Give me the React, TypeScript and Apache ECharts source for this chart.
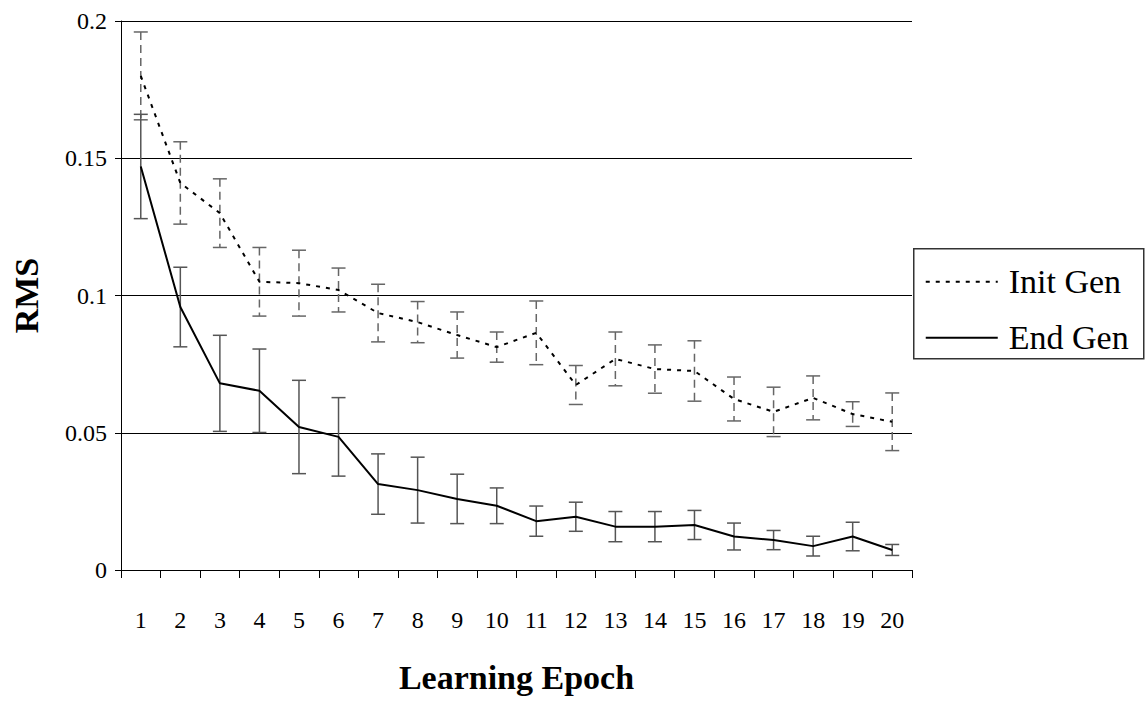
import React, { useEffect, useRef } from "react";
import * as echarts from "echarts";

// Learning epochs on the x axis
const epochs = ["1", "2", "3", "4", "5", "6", "7", "8", "9", "10", "11", "12", "13", "14", "15", "16", "17", "18", "19", "20"];

// Mean RMS at the start of each generation, with its error
const initGen = [0.180, 0.141, 0.130, 0.105, 0.1045, 0.102, 0.0936, 0.0903, 0.0856, 0.0812, 0.0864, 0.0674, 0.0769, 0.0732, 0.0725, 0.0623, 0.0576, 0.0627, 0.0568, 0.054];
const initErr = [0.016, 0.015, 0.0125, 0.0125, 0.012, 0.008, 0.0105, 0.0075, 0.0084, 0.0055, 0.0116, 0.0071, 0.0098, 0.0088, 0.011, 0.008, 0.009, 0.008, 0.0045, 0.0105];

// Mean RMS at the end of each generation, with its error
const endGen = [0.147, 0.0958, 0.068, 0.0653, 0.0521, 0.0485, 0.0313, 0.0291, 0.0259, 0.0234, 0.0178, 0.0194, 0.0158, 0.0158, 0.0164, 0.0122, 0.0109, 0.0087, 0.0122, 0.0073];
const endErr = [0.019, 0.0145, 0.0175, 0.0152, 0.017, 0.0143, 0.011, 0.012, 0.009, 0.0065, 0.0055, 0.0053, 0.0055, 0.0055, 0.0053, 0.0049, 0.0035, 0.0036, 0.0052, 0.002];

const seriesNames = ["Init Gen", "End Gen"];

const FONT = "Liberation Serif";
const INIT_DASH = [4, 6];

function errorBars(color: string, dashed: boolean) {
  return (params: any, api: any) => {
    const x = api.value(0);
    const lo = api.coord([x, api.value(1)]);
    const hi = api.coord([x, api.value(2)]);
    const half = 7;
    const stem = { stroke: color, lineWidth: 1.5, lineDash: dashed ? [8, 5] : null };
    const cap = { stroke: color, lineWidth: 1.5 };
    return {
      type: "group",
      children: [
        { type: "line", shape: { x1: hi[0], y1: hi[1], x2: lo[0], y2: lo[1] }, style: stem },
        { type: "line", shape: { x1: hi[0] - half, y1: hi[1], x2: hi[0] + half, y2: hi[1] }, style: cap },
        { type: "line", shape: { x1: lo[0] - half, y1: lo[1], x2: lo[0] + half, y2: lo[1] }, style: cap },
      ],
    };
  };
}

export default function App() {
  const ref = useRef<HTMLDivElement>(null);

  useEffect(() => {
    if (!ref.current) return;
    const chart = echarts.init(ref.current, null, { renderer: "svg" });

    const initBars = epochs.map((_, i) => [i, initGen[i] - initErr[i], initGen[i] + initErr[i]]);
    const endBars = epochs.map((_, i) => [i, endGen[i] - endErr[i], endGen[i] + endErr[i]]);

    const keyFont = "34px 'Liberation Serif', serif";

    // Boxed key at the right of the plot
    const legendGraphic = {
      type: "group",
      left: 913,
      top: 248,
      children: [
        {
          type: "rect",
          shape: { x: 0, y: 0, width: 230, height: 110 },
          style: { fill: "#fff", stroke: "#333", lineWidth: 1.5 },
        },
        {
          type: "line",
          shape: { x1: 12, y1: 33, x2: 84, y2: 33 },
          style: { stroke: "#000", lineWidth: 2, lineDash: INIT_DASH },
        },
        {
          type: "text",
          x: 95,
          y: 33,
          style: { text: seriesNames[0], font: keyFont, fontFamily: FONT, fontSize: 34, fill: "#000", verticalAlign: "middle", align: "left" },
        },
        {
          type: "line",
          shape: { x1: 12, y1: 89, x2: 84, y2: 89 },
          style: { stroke: "#000", lineWidth: 2 },
        },
        {
          type: "text",
          x: 95,
          y: 89,
          style: { text: seriesNames[1], font: keyFont, fontFamily: FONT, fontSize: 34, fill: "#000", verticalAlign: "middle", align: "left" },
        },
      ],
    };

    chart.setOption({
      animation: false,
      backgroundColor: "#ffffff",
      textStyle: { fontFamily: FONT, color: "#000" },
      grid: { left: 121, top: 21, right: 235, bottom: 133 },
      graphic: [legendGraphic],
      xAxis: {
        type: "category",
        data: epochs,
        boundaryGap: true,
        name: "Learning Epoch",
        nameLocation: "middle",
        nameGap: 90,
        nameTextStyle: { fontFamily: FONT, fontSize: 34, fontWeight: "bold", color: "#000" },
        axisLine: { lineStyle: { color: "#000", width: 1 } },
        axisTick: { show: true, length: 8, lineStyle: { color: "#000" } },
        axisLabel: { fontFamily: FONT, fontSize: 24, color: "#000", margin: 38 },
        splitLine: { show: false },
      },
      yAxis: {
        type: "value",
        min: 0,
        max: 0.2,
        interval: 0.05,
        name: "RMS",
        nameLocation: "middle",
        nameGap: 78,
        nameRotate: 90,
        nameTextStyle: { fontFamily: FONT, fontSize: 34, fontWeight: "bold", color: "#000" },
        axisLine: { show: true, lineStyle: { color: "#000", width: 1 } },
        axisTick: { show: true, length: 6, lineStyle: { color: "#000" } },
        axisLabel: { fontFamily: FONT, fontSize: 24, color: "#000", margin: 14 },
        splitLine: { show: true, lineStyle: { color: "#000", width: 1 } },
      },
      series: [
        {
          type: "custom",
          name: "Init Gen bars",
          renderItem: errorBars("#666", true),
          data: initBars,
          z: 2,
          silent: true,
        },
        {
          type: "custom",
          name: "End Gen bars",
          renderItem: errorBars("#555", false),
          data: endBars,
          z: 2,
          silent: true,
        },
        {
          type: "line",
          name: seriesNames[0],
          data: initGen,
          symbol: "none",
          lineStyle: { color: "#000", width: 2, type: INIT_DASH },
          z: 3,
        },
        {
          type: "line",
          name: seriesNames[1],
          data: endGen,
          symbol: "none",
          lineStyle: { color: "#000", width: 2, type: "solid" },
          z: 3,
        },
      ],
    });

    return () => chart.dispose();
  }, []);

  return (
    <div
      ref={ref}
      style={{ position: "fixed", left: 0, top: 0, width: 1147, height: 703, background: "#fff" }}
    />
  );
}
